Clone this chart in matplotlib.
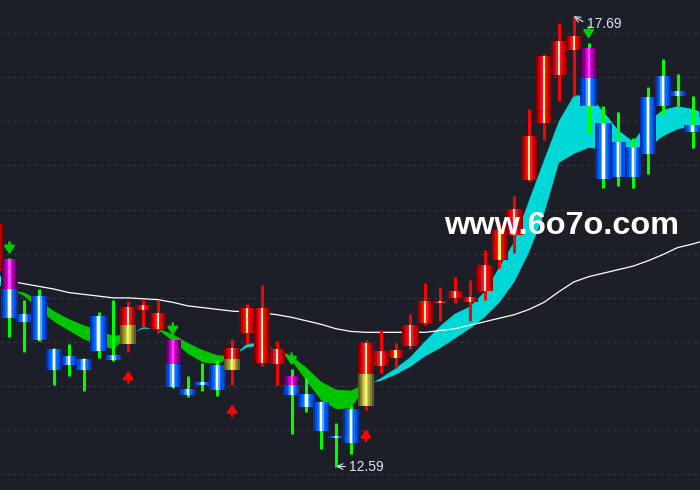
import numpy as np
import matplotlib
matplotlib.use("Agg")
import matplotlib.pyplot as plt

# candle index (-1 is the bar cut off at the left edge)
idx = list(range(-1, 48))

opens = [14.80, 14.94, 14.32, 14.52, 13.92, 13.84, 13.81, 14.30, 13.85, 13.98,
         14.36, 14.15, 14.02, 13.47, 13.55, 13.74, 13.68, 14.10, 13.76, 13.75,
         13.61, 13.41, 13.32, 12.94, 13.24, 13.28, 13.73, 13.82, 13.96, 14.22,
         14.44, 14.50, 14.45, 14.58, 14.93, 15.21, 15.84, 16.48, 17.02, 17.31,
         17.33, 16.48, 16.27, 16.21, 16.77, 17.01, 16.84, 16.46, 16.66]
highs = [15.36, 14.95, 14.48, 14.60, 13.93, 13.98, 13.82, 14.34, 14.48, 14.47,
         14.48, 14.48, 14.03, 13.62, 13.76, 13.80, 14.03, 14.43, 14.65, 14.01,
         13.69, 13.59, 13.33, 13.08, 13.27, 14.02, 14.14, 13.99, 14.32, 14.67,
         14.62, 14.74, 14.70, 15.04, 15.36, 15.65, 16.64, 17.26, 17.61, 17.69,
         17.39, 16.67, 16.61, 16.31, 16.89, 17.21, 17.04, 16.79, 16.70]
lows = [14.76, 14.06, 13.89, 14.01, 13.51, 13.61, 13.45, 13.82, 13.78, 13.89,
        14.17, 14.10, 13.48, 13.38, 13.45, 13.39, 13.51, 13.98, 13.73, 13.51,
        12.96, 13.21, 12.79, 12.59, 12.73, 13.23, 13.65, 13.71, 13.92, 14.19,
        14.24, 14.44, 14.24, 14.48, 14.84, 15.01, 15.82, 16.29, 16.73, 16.79,
        16.37, 15.74, 15.77, 15.75, 15.90, 16.57, 16.67, 16.20, 16.50]
closes = [15.34, 14.27, 14.23, 14.02, 13.68, 13.74, 13.68, 13.90, 13.80, 14.40,
          14.42, 14.33, 13.49, 13.40, 13.51, 13.46, 13.93, 14.39, 14.39, 13.92,
          13.40, 13.26, 12.99, 12.91, 12.86, 13.99, 13.90, 13.91, 14.19, 14.46,
          14.47, 14.58, 14.51, 14.87, 15.27, 15.51, 16.33, 17.24, 17.41, 17.47,
          16.67, 15.85, 15.87, 15.87, 16.13, 16.67, 16.79, 16.38, 16.55]
# level where the body changes colour (magenta top / olive bottom)
splits = {0: 14.60, 8: 14.19, 11: 13.75, 15: 13.81, 19: 13.51, 24: 13.64, 39: 16.99}

fast = [14.84, 14.61, 14.52, 14.37, 14.23, 14.13, 14.03, 13.97, 13.92, 14.07,
        14.17, 14.14, 14.01, 13.87, 13.77, 13.75, 13.83, 13.98, 13.99, 13.91,
        13.79, 13.56, 13.34, 13.24, 13.25, 13.50, 13.59, 13.70, 13.83, 14.01,
        14.18, 14.32, 14.40, 14.57, 14.85, 15.14, 15.61, 16.06, 16.50, 16.79,
        16.80, 16.61, 16.40, 16.27, 16.49, 16.63, 16.67, 16.64, 16.58]
slow = [14.67, 14.59, 14.56, 14.47, 14.35, 14.26, 14.19, 14.13, 14.07, 14.09,
        14.15, 14.15, 14.09, 13.99, 13.91, 13.85, 13.84, 13.94, 13.96, 13.92,
        13.84, 13.71, 13.55, 13.46, 13.45, 13.53, 13.56, 13.63, 13.72, 13.84,
        13.93, 14.04, 14.15, 14.28, 14.45, 14.68, 15.02, 15.45, 16.03, 16.13,
        16.20, 16.18, 16.08, 16.15, 16.20, 16.33, 16.41, 16.45, 16.46]
ma_long = [14.71, 14.69, 14.66, 14.63, 14.60, 14.56, 14.54, 14.52, 14.50, 14.50,
           14.49, 14.48, 14.45, 14.41, 14.39, 14.37, 14.35, 14.34, 14.33, 14.31,
           14.28, 14.24, 14.20, 14.15, 14.12, 14.11, 14.11, 14.11, 14.11, 14.11,
           14.13, 14.15, 14.19, 14.23, 14.27, 14.31, 14.37, 14.45, 14.57, 14.68,
           14.74, 14.78, 14.82, 14.86, 14.92, 14.99, 15.07, 15.11, 15.16]

sell_marks = [0, 11, 19, 39]
buy_marks = [8, 15, 24]
grid_levels = [12.5, 13.0, 13.5, 14.0, 14.5, 15.0, 15.5, 16.0, 16.5, 17.0, 17.5]

BG = "#1c1f27"
WIDTHS = [1.0, 0.76, 0.5, 0.3, 0.13]
PAL_UP = ["#820000", "#bc0000", "#ff0000", "#e8185c", "#e6f57a"]
PAL_DN = ["#0030a8", "#004ee0", "#0074ff", "#58acff", "#ffffff"]
PAL_MAG = ["#4a004a", "#7a007a", "#b000b0", "#e000e0", "#ff40ff"]
PAL_OLV = ["#5a5a2c", "#80802e", "#a8a834", "#d0d040", "#f2f27a"]
BODY_W = 1.1


def body(ax, x, y0, y1, pal):
    for w, col in zip(WIDTHS, pal):
        ax.bar(x, y1 - y0, width=BODY_W * w, bottom=y0, color=col,
               linewidth=0, zorder=4)


fig = plt.figure(figsize=(7, 4.9), dpi=100)
fig.patch.set_facecolor(BG)
ax = fig.add_axes([0, 0, 1, 1])
ax.set_facecolor(BG)
ax.set_xlim(-0.636, 46.502)
ax.set_ylim(12.324, 17.874)
for s in ax.spines.values():
    s.set_visible(False)
ax.set_xticks([])
ax.set_yticks([])

for g in grid_levels:
    ax.axhline(g, color="#343843", lw=0.8, ls=(0, (3, 3)), zorder=0)

x = np.array(idx)
f = np.array(fast)
s = np.array(slow)
ax.fill_between(x, f, s, where=f >= s, interpolate=True, color="#00d8d8", lw=0, zorder=1)
ax.fill_between(x, f, s, where=f <= s, interpolate=True, color="#00c400", lw=0, zorder=1)
ax.plot(x, ma_long, color="white", lw=0.9, zorder=2)

for i, o, h, l, c in zip(idx, opens, highs, lows, closes):
    up = c >= o
    ax.vlines(i, l, h, color="#ff0000" if up else "#00ff00", lw=2.2, zorder=3)
    sp = splits.get(i)
    if up:
        if sp is None:
            body(ax, i, o, c, PAL_UP)
        else:
            body(ax, i, o, sp, PAL_OLV)
            body(ax, i, sp, c, PAL_UP)
    else:
        if sp is None:
            body(ax, i, c, o, PAL_DN)
        else:
            body(ax, i, c, sp, PAL_DN)
            body(ax, i, sp, o, PAL_MAG)

px = 1 / 88.3  # one pixel in price units
for i in sell_marks:
    h = highs[idx.index(i)]
    ax.annotate("", xy=(i, h + 4 * px), xytext=(i, h + 16 * px),
                arrowprops=dict(arrowstyle="-|>,head_width=0.3,head_length=0.45",
                                color="#00cc00", lw=1.8, shrinkA=0, shrinkB=0),
                zorder=5)
for i in buy_marks:
    l = lows[idx.index(i)]
    ax.annotate("", xy=(i, l - 19 * px), xytext=(i, l - 31 * px),
                arrowprops=dict(arrowstyle="-|>,head_width=0.3,head_length=0.45",
                                color="#ff0000", lw=1.8, shrinkA=0, shrinkB=0),
                zorder=5)

hi_i = idx[int(np.argmax(highs))]
lo_i = idx[int(np.argmin(lows))]
lab = dict(textcoords="offset points", ha="left", va="center", fontsize=10,
           family="Liberation Sans", color="#dce6f5", zorder=6)
ax.annotate(f"{max(highs):.2f}", xy=(hi_i, max(highs)), xytext=(9.5, -5.5),
            arrowprops=dict(arrowstyle="->", color="#dce6f5", lw=0.8,
                            shrinkA=1, shrinkB=0, relpos=(0, 0.5)), **lab)
ax.annotate(f"{min(lows):.2f}", xy=(lo_i, min(lows)), xytext=(9.5, 0),
            arrowprops=dict(arrowstyle="->", color="#dce6f5", lw=0.8,
                            shrinkA=1, shrinkB=0, relpos=(0, 0.5)), **lab)

fig.text(561.5 / 700, 1 - 234 / 490, "www.6o7o.com", ha="center", va="baseline",
         fontsize=23.4, fontweight="bold", family="Liberation Sans", color="white",
         zorder=10)

fig.savefig("out.png", dpi=100, facecolor=BG)
